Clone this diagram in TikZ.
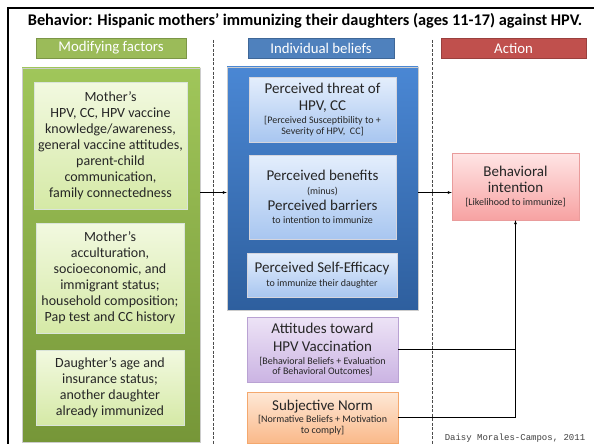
\documentclass[tikz,border=0pt]{standalone}
\usepackage{fontspec}
\setmainfont{Carlito}
\newfontfamily\creditfont{Liberation Mono}

% line fonts: baselineskip 0, so every \\[..] gives the baseline distance
\newcommand{\bigtxt}{\fontsize{15}{0}\selectfont\lineskiplimit=-100pt\relax}
\newcommand{\subtxt}{\fontsize{10}{0}\selectfont}
\newcommand{\greentxt}{\fontsize{14}{16}\selectfont\lineskiplimit=-100pt\relax}
\newcommand{\hdrtxt}{\fontsize{14.8}{16}\selectfont}
\newcommand{\titletxt}{\fontsize{16.3}{18}\selectfont\bfseries}

\definecolor{hdrgreen}{HTML}{9BBB59}
\definecolor{hdrblue}{HTML}{4F81BD}
\definecolor{hdrred}{HTML}{C0504D}
\definecolor{txtgray}{HTML}{262626}

\begin{document}
\begin{tikzpicture}[x=1pt,y=-1pt,>=latex]
	\tikzstyle{every node}=[inner sep=1pt, align=center, text=txtgray]
	\tikzstyle{hdr}=[minimum height=20pt, font=\hdrtxt, text=white]
	\tikzstyle{outer}=[draw=gray!40]
	\tikzstyle{gbox}=[draw=green!15!gray!25, top color={rgb,255:red,242;green,249;blue,224}, bottom color={rgb,255:red,213;green,233;blue,166}, font=\greentxt]
	\tikzstyle{bbox}=[draw=blue!10!gray!30, top color={rgb,255:red,228;green,238;blue,252}, bottom color={rgb,255:red,168;green,198;blue,240}, font=\bigtxt]
	\tikzstyle{sep}=[draw=black!70, line width=0.8pt, dash pattern=on 3pt off 1.5pt]

	\fill[white] (0,0) rectangle (594,444);
	\useasboundingbox (0,0) rectangle (594,444);

	% separators
	\draw[sep] (213,40) -- (213,444);
	\draw[sep] (432,40) -- (432,444);

	\node[font=\titletxt, text=black] (title) at (305,21) {Behavior: Hispanic mothers’ immunizing their daughters (ages 11-17) against HPV.};

	% column headers
	\node[hdr, fill=hdrgreen, draw=hdrgreen!80!black, minimum width=150pt] (hmod) at (111,48) {Modifying factors};
	\node[hdr, fill=hdrblue, draw=hdrblue!80!black, minimum width=146pt] (hbel) at (321,48) {Individual beliefs};
	\node[hdr, fill=hdrred, draw=hdrred!80!black, minimum width=145pt] (hact) at (513.5,48) {Action};

	% modifying factors
	\node[outer, top color={rgb,255:red,160;green,198;blue,90}, bottom color={rgb,255:red,118;green,150;blue,56}, minimum width=178pt, minimum height=374pt] (mods) at (111,255) {};
	\node[gbox, minimum width=153pt, minimum height=127pt] (mother) at (110.5,145.5) {Mother’s\\ HPV, CC, HPV vaccine\\ knowledge/awareness,\\ general vaccine attitudes,\\ parent-child\\ communication,\\ family connectedness};
	\node[gbox, minimum width=148pt, minimum height=110pt] (status) at (110,278) {Mother’s\\ acculturation,\\ socioeconomic, and\\ immigrant status;\\ household composition;\\ Pap test and CC history};
	\node[gbox, minimum width=148pt, minimum height=75pt] (daughter) at (110,387.5) {Daughter’s age and\\ insurance status;\\ another daughter\\ already immunized};

	% individual beliefs
	\node[outer, top color={rgb,255:red,74;green,135;blue,212}, bottom color={rgb,255:red,46;green,95;blue,158}, minimum width=191pt, minimum height=243pt] (beliefs) at (322.5,188.5) {};
	\node[bbox, minimum width=147pt, minimum height=65pt] (threat) at (322.5,109.5) {Perceived threat of\\[17.5pt] HPV, CC\\[13pt] {\subtxt [Perceived Susceptibility to +}\\[10.5pt] {\subtxt Severity of HPV,\ \ CC]}};
	\node[bbox, minimum width=147pt, minimum height=84pt] (benefit) at (322.5,197) {Perceived benefits\\[13.5pt] {\subtxt (minus)}\\[16.5pt] Perceived barriers\\[12.5pt] {\subtxt to intention to immunize}};
	\node[bbox, minimum width=150pt, minimum height=44pt] (efficacy) at (322,275) {Perceived Self-Efficacy\\[13.5pt] {\subtxt to immunize their daughter}};

	\node[font=\bigtxt, draw={rgb,255:red,185;green,162;blue,211}, top color={rgb,255:red,237;green,227;blue,246}, bottom color={rgb,255:red,203;green,180;blue,227}, minimum width=151pt, minimum height=65pt] (attitude) at (322.5,349.5) {Attitudes toward\\[18pt] HPV Vaccination\\[13.5pt] {\subtxt [Behavioral Beliefs + Evaluation}\\[10pt] {\subtxt of Behavioral Outcomes]}};
	\node[font=\bigtxt, draw={rgb,255:red,244;green,168;blue,110}, top color={rgb,255:red,254;green,232;blue,214}, bottom color={rgb,255:red,250;green,185;blue,138}, minimum width=151pt, minimum height=51pt] (norm) at (322.5,417.5) {Subjective Norm\\[12.5pt] {\subtxt [Normative Beliefs + Motivation}\\[11pt] {\subtxt to comply]}};

	% action
	\node[font=\bigtxt, draw={rgb,255:red,233;green,156;blue,156}, top color={rgb,255:red,255;green,229;blue,229}, bottom color={rgb,255:red,247;green,162;blue,162}, minimum width=127pt, minimum height=67pt] (intent) at (515.5,186.5) {Behavioral\\[16pt] intention\\[13.5pt] {\subtxt [Likelihood to immunize]}};

	% connectors
	\coordinate (lvl) at (0,192.5);
	\draw[->] (mods.east |- lvl) -- (beliefs.west |- lvl);
	\draw[->] (beliefs.east |- lvl) -- (intent.west |- lvl);
	\draw (attitude.east) -- (attitude.east -| intent.south);
	\draw[->] (norm.east) -- (norm.east -| intent.south) -- (intent.south);

	\node[font=\creditfont\fontsize{9}{10}\selectfont, text=black!75] (credit) at (515,438) {Daisy Morales-Campos, 2011};

	% frame
	\draw[line width=2.5pt] (8,444) -- (8,8) -- (594,8);
\end{tikzpicture}
\end{document}
